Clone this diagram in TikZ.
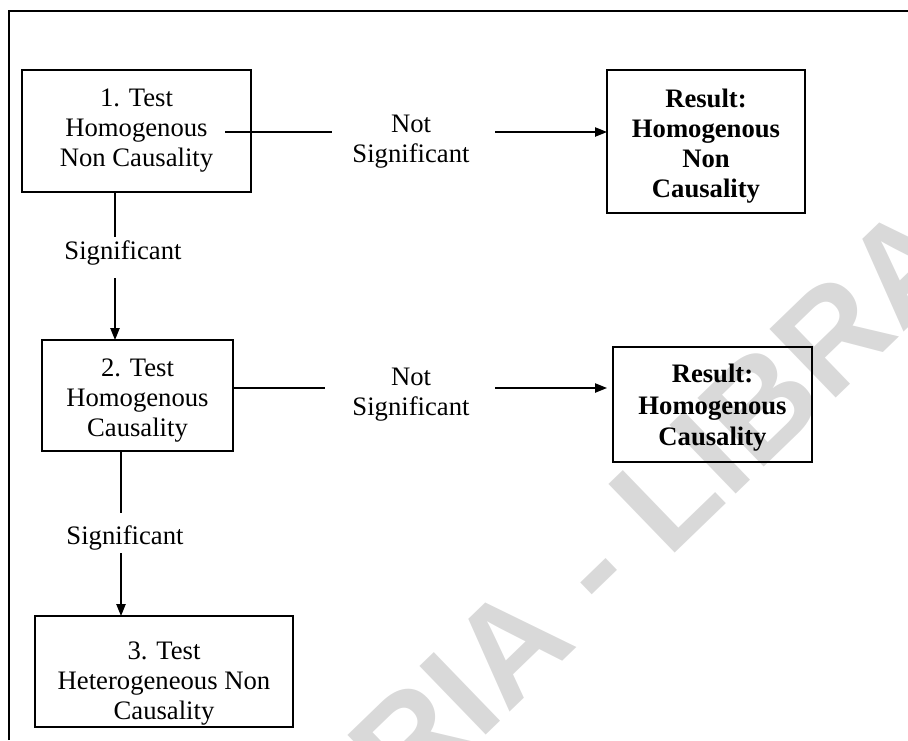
\documentclass[tikz,border=0pt]{standalone}
\usepackage{fontspec}
\setmainfont{Liberation Serif}
\newfontfamily\wmfont{Liberation Sans}
\usetikzlibrary{arrows.meta}
\definecolor{wmgray}{RGB}{217,217,217}
\begin{document}
\begin{tikzpicture}[x=0.75pt,y=-0.75pt,
  every node/.style={font=\fontsize{20}{22.5}\selectfont, align=center, inner sep=0pt},
  box/.style={draw, line width=1pt, rectangle},
  restext/.style={font=\fontsize{20}{22.5}\selectfont\bfseries},
  link/.style={line width=1pt},
  arrowlink/.style={line width=1pt, -{Triangle[length=9pt,width=7pt]}},
  frame/.style={line width=2.2pt}]
\useasboundingbox (0,0) rectangle (908,740);
% watermark
\begin{scope}
\clip (0,0) rectangle (908,740);
\node[rotate=44, anchor=base, text=wmgray, font=\wmfont\bfseries\fontsize{104}{104}\selectfont] (wm) at (624,602)
  {\smash{\llap{UNIVERSITY OF NIGERIA }}-\smash{\rlap{ LIBRARY}}};
\end{scope}
% frame
\coordinate (fbl) at (9,740);
\coordinate (ftl) at (9,11);
\coordinate (ftr) at (908,11);
\draw[frame] (fbl) -- (ftl) -- (ftr);
% boxes
\node[box, minimum width=171.75pt, minimum height=91.5pt] (t1) at (136.5,131) {};
\node (t1txt) at (t1.center) {1. Test\\Homogenous\\Non Causality};
\node[box, minimum width=148.5pt, minimum height=107.25pt] (r1) at (706,141.5) {};
\node[restext, yshift=-3.75pt] (r1txt) at (r1.center) {Result:\\Homogenous\\Non\\Causality};
\node[box, minimum width=143.25pt, minimum height=83.25pt] (t2) at (137.5,395.5) {};
\node[yshift=-3.75pt] (t2txt) at (t2.center) {2. Test\\Homogenous\\Causality};
\node[box, minimum width=149.25pt, minimum height=86.25pt] (r2) at (712.5,404.5) {};
\node[restext, yshift=-2.5pt, font=\fontsize{20}{23.5}\selectfont\bfseries] (r2txt) at (r2.center) {Result:\\Homogenous\\Causality};
\node[box, minimum width=193.5pt, minimum height=83.25pt] (t3) at (164,671.5) {};
\node[yshift=-9pt] (t3txt) at (t3.center) {3. Test\\Heterogeneous Non\\Causality};
% labels
\node (ns1) at (411,142) {Not\\Significant};
\node (ns2) at (411,395) {Not\\Significant};
\node (s1) at (123,253) {Significant};
\node (s2) at (125,538) {Significant};
% connector points
\coordinate (a1) at (225,132);
\coordinate (a2) at (332,132);
\coordinate (a3) at (495,132);
\coordinate (a4) at (607,132);
\coordinate (b1) at (233,388);
\coordinate (b2) at (325,388);
\coordinate (b3) at (495,388);
\coordinate (b4) at (607,388);
\coordinate (v1) at (115,192);
\coordinate (v2) at (115,237);
\coordinate (v3) at (115,278);
\coordinate (v4) at (115,340);
\coordinate (w1) at (121,451);
\coordinate (w2) at (121,513);
\coordinate (w3) at (121,553);
\coordinate (w4) at (121,616);
% connectors
\draw[link] (a1) -- (a2);
\draw[arrowlink] (a3) -- (a4);
\draw[link] (b1) -- (b2);
\draw[arrowlink] (b3) -- (b4);
\draw[link] (v1) -- (v2);
\draw[arrowlink] (v3) -- (v4);
\draw[link] (w1) -- (w2);
\draw[arrowlink] (w3) -- (w4);
\end{tikzpicture}
\end{document}
